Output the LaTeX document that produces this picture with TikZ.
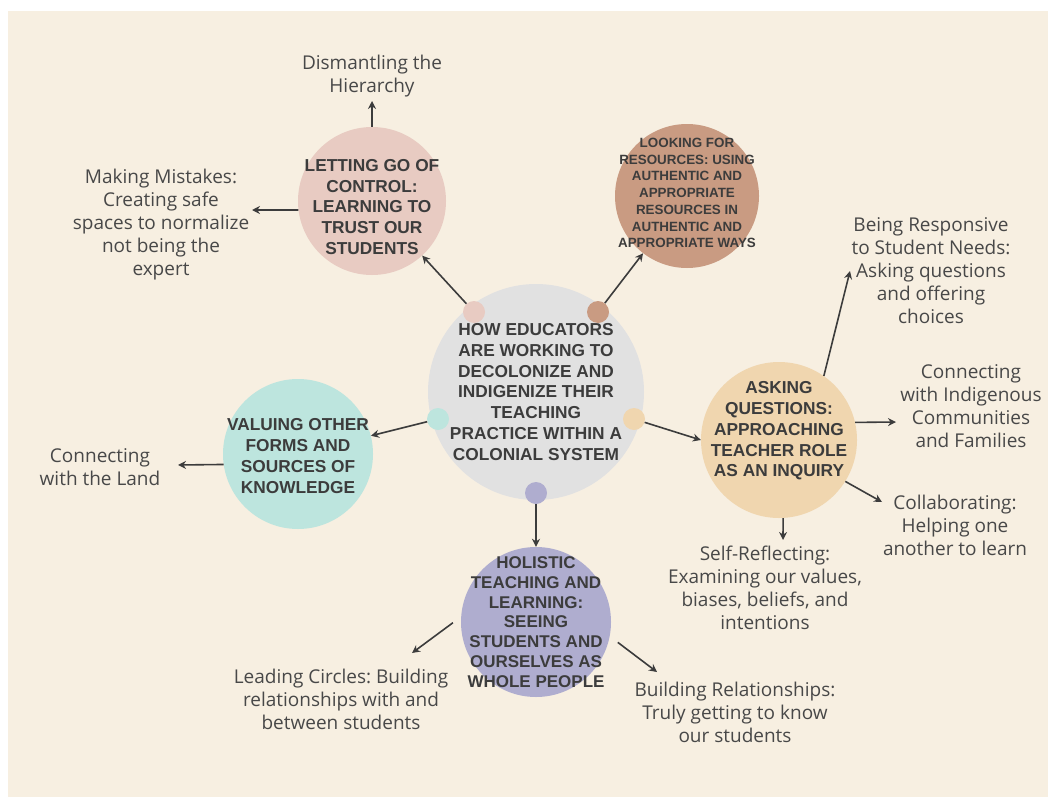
\documentclass[tikz,border=0pt]{standalone}
\usepackage{fontspec}
\setmainfont{Open Sans}
\newfontfamily\capsfont{Liberation Sans}
\usetikzlibrary{arrows.meta}
\frenchspacing
\definecolor{paper}{RGB}{247,239,225}
\definecolor{ink}{RGB}{60,60,60}
\definecolor{softink}{RGB}{72,72,72}
\definecolor{hubgrey}{RGB}{225,225,225}
\definecolor{trustpink}{RGB}{232,203,194}
\definecolor{resourcebrown}{RGB}{201,155,130}
\definecolor{inquirytan}{RGB}{240,214,175}
\definecolor{knowledgeteal}{RGB}{189,229,222}
\definecolor{holisticlilac}{RGB}{175,173,207}

\begin{document}
\begin{tikzpicture}[x=1pt, y=-1pt,
    topic/.style={circle, inner sep=0pt},
    caps/.style={align=center, text=ink, inner sep=0pt, font=\capsfont\bfseries\fontsize{17.3}{20.7}\selectfont},
    dot/.style={circle, inner sep=0pt, minimum size=22pt},
    note/.style={align=center, text=softink, font=\fontsize{19}{23}\selectfont},
    arr/.style={-{Stealth[length=8pt,width=8pt]}, line width=1.6pt, draw=ink}]
    \useasboundingbox (0,0) rectangle (1048,797);
    \fill[white] (0,0) rectangle (1048,797);
    \fill[paper] (8,11) rectangle (1048,797);

    \node[topic, fill=hubgrey, minimum size=216pt, label={[caps]center:{HOW EDUCATORS\\ARE WORKING TO\\DECOLONIZE AND\\INDIGENIZE THEIR\\TEACHING\\PRACTICE WITHIN A\\COLONIAL SYSTEM}}] (hub) at (536,392) {};
    \node[topic, fill=trustpink, minimum size=148pt, label={[caps, yshift=-6pt]center:{LETTING GO OF\\CONTROL:\\LEARNING TO\\TRUST OUR\\STUDENTS}}] (trust) at (372,201) {};
    \node[topic, fill=resourcebrown, minimum size=144pt, label={[caps, yshift=3pt, font=\capsfont\bfseries\fontsize{13.4}{16.7}\selectfont]center:{LOOKING FOR\\RESOURCES: USING\\AUTHENTIC AND\\APPROPRIATE\\RESOURCES IN\\AUTHENTIC AND\\APPROPRIATE WAYS}}] (resource) at (687,196) {};
    \node[topic, fill=inquirytan, minimum size=156pt, label={[caps, yshift=9pt]center:{ASKING\\QUESTIONS:\\APPROACHING\\TEACHER ROLE\\AS AN INQUIRY}}] (inquiry) at (779,440) {};
    \node[topic, fill=knowledgeteal, minimum size=150pt, label={[caps, yshift=-2pt]center:{VALUING OTHER\\FORMS AND\\SOURCES OF\\KNOWLEDGE}}] (knowledge) at (298,454) {};
    \node[topic, fill=holisticlilac, minimum size=150pt, label={[caps, font=\capsfont\bfseries\fontsize{17}{19.8}\selectfont]center:{HOLISTIC\\TEACHING AND\\LEARNING:\\SEEING\\STUDENTS AND\\OURSELVES AS\\WHOLE PEOPLE}}] (holistic) at (536,622) {};

    \node[dot, fill=trustpink] (dtrust) at (474,312) {};
    \node[dot, fill=resourcebrown] (dresource) at (598,312) {};
    \node[dot, fill=knowledgeteal] (dknowledge) at (438,419) {};
    \node[dot, fill=inquirytan] (dinquiry) at (634,419) {};
    \node[dot, fill=holisticlilac] (dholistic) at (536,493) {};

    \draw[arr] (dtrust) -- (trust);
    \draw[arr] (dresource) -- (resource);
    \draw[arr] (dknowledge) -- (knowledge);
    \draw[arr] (dinquiry) -- (inquiry.west);
    \draw[arr] (dholistic) -- (holistic);

    \node[note] (hierarchy) at (372,76) {Dismantling the\\Hierarchy};
    \node[note] (mistakes) at (161,225) {Making Mistakes:\\Creating safe\\spaces to normalize\\not being the\\expert};
    \node[note] (land) at (100,467) {Connecting\\with the Land};
    \node[note] (responsive) at (931,271) {Being Responsive\\to Student Needs:\\Asking questions\\and offering\\choices};
    \node[note] (communities) at (971,406) {Connecting\\with Indigenous\\Communities\\and Families};
    \node[note] (collaborating) at (955,525) {Collaborating:\\Helping one\\another to learn};
    \node[note] (reflecting) at (765,588) {Self-Reflecting:\\Examining our values,\\biases, beliefs, and\\intentions};
    \node[note] (circles) at (341,699) {Leading Circles: Building\\relationships with and\\between students};
    \node[note] (relationships) at (735,712) {Building Relationships:\\Truly getting to know\\our students};

    \coordinate (hiertip) at (372,101);
    \coordinate (mistip) at (252,210);
    \coordinate (landtip) at (178,465);
    \coordinate (resptip) at (850,271);
    \coordinate (commtip) at (896,422);
    \coordinate (colltip) at (882,502);
    \coordinate (refltip) at (783,540);
    \coordinate (circtip) at (412,653);
    \coordinate (reltip) at (657,672);

    \draw[arr] (trust.north) -- (hiertip);
    \draw[arr] (trust.187) -- (mistip);
    \draw[arr] (knowledge.188) -- (landtip);
    \draw[arr] (inquiry.55) -- (resptip);
    \draw[arr] (inquiry.13) -- (commtip);
    \draw[arr] (inquiry.-32) -- (colltip);
    \draw[arr] (inquiry.-87) -- (refltip);
    \draw[arr, shorten <=10pt] (holistic.176) -- (circtip);
    \draw[arr, shorten <=10pt] (holistic.-11) -- (reltip);
\end{tikzpicture}
\end{document}
